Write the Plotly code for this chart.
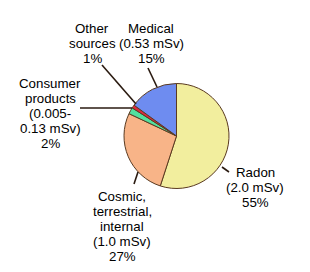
import plotly.graph_objects as go

W, H = 310, 272

categories = ["Radon", "Cosmic, terrestrial, internal", "Consumer products", "Other sources", "Medical"]
values = [55, 27, 2, 1, 15]
colors = ["#F2EE9E", "#F8B488", "#52E0A0", "#E0283C", "#6E8CF0"]

label_lines = {
    "Radon": ["Radon", "(2.0 mSv)", "55%"],
    "Cosmic": ["Cosmic,", "terrestrial,", "internal", "(1.0 mSv)", "27%"],
    "Consumer": ["Consumer", "products", "(0.005-", "0.13 mSv)", "2%"],
    "Other": ["Other", "sources", "1%"],
    "Medical": ["Medical", "(0.53 mSv)", "15%"],
}
# label block centre x and first-line y (pixels)
label_pos = {
    "Radon": (255, 172.5),
    "Cosmic": (122, 196),
    "Consumer": (50, 83),
    "Other": (92, 28.5),
    "Medical": (151, 28.5),
}
leaders = [
    ((222, 167), (229, 172)),
    ((134, 184), (138, 172)),
    ((80, 108), (132, 108)),
    ((102, 65), (136, 104)),
    ((148, 68), (157, 87)),
]

cx, cy, r = 176.5, 136, 52.5

fig = go.Figure(go.Pie(
    labels=categories, values=values, sort=False, direction="clockwise",
    rotation=0, textinfo="none", hoverinfo="label+percent",
    marker=dict(colors=colors, line=dict(color="#5A3A20", width=1)),
    domain=dict(x=[(cx - r) / W, (cx + r) / W], y=[1 - (cy + r) / H, 1 - (cy - r) / H]),
    showlegend=False,
))

ann = []
for key, lines in label_lines.items():
    x0, y0 = label_pos[key]
    for i, t in enumerate(lines):
        ann.append(dict(x=x0 / W, y=1 - (y0 + 15 * i) / H, xref="paper", yref="paper",
                        text=t, showarrow=False, xanchor="center", yanchor="middle",
                        font=dict(family="Arial, Liberation Sans", size=13.3, color="#000")))

shapes = [dict(type="line", xref="paper", yref="paper",
               x0=a[0] / W, y0=1 - a[1] / H, x1=b[0] / W, y1=1 - b[1] / H,
               line=dict(color="#2A1A10", width=1.6)) for a, b in leaders]

fig.update_layout(width=W, height=H, margin=dict(l=0, r=0, t=0, b=0),
                  paper_bgcolor="white", plot_bgcolor="white",
                  annotations=ann, shapes=shapes)
fig.write_html("out.html")
